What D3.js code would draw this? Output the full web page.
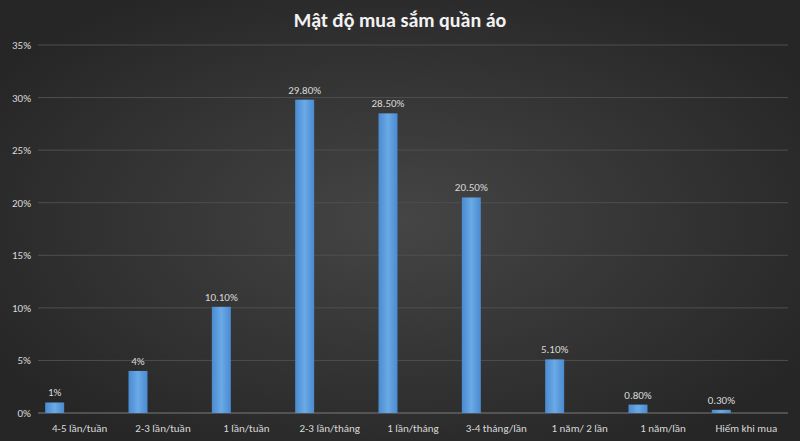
<!DOCTYPE html><html><head><meta charset="utf-8"><script src="https://cdn.jsdelivr.net/npm/d3@7"></script>
<style>body{margin:0;background:#2f2f2f}svg{display:block;font-family:Calibri,Carlito,"Liberation Sans",sans-serif}</style></head><body>
<svg id="c" width="800" height="441"></svg>
<script>
const categories=["4-5 lần/tuần","2-3 lần/tuần","1 lần/tuần","2-3 lần/tháng","1 lần/tháng","3-4 tháng/lần","1 năm/ 2 lần","1 năm/lần","Hiếm khi mua"];
const values=[1,4,10.1,29.8,28.5,20.5,5.1,0.8,0.3];
const valueLabels=["1%","4%","10.10%","29.80%","28.50%","20.50%","5.10%","0.80%","0.30%"];
const yTicks=[0,5,10,15,20,25,30,35];
const svg=d3.select("#c");
const defs=svg.append("defs");
const rg=defs.append("radialGradient").attr("id","bg").attr("cx","50%").attr("cy","50%").attr("r","60%");
rg.append("stop").attr("offset","0%").attr("stop-color","#454545");
rg.append("stop").attr("offset","100%").attr("stop-color","#262626");
const lg=defs.append("linearGradient").attr("id","bar").attr("x1",0).attr("x2",1);
lg.append("stop").attr("offset","0%").attr("stop-color","#4a8ad0");
lg.append("stop").attr("offset","50%").attr("stop-color","#6aaae6");
lg.append("stop").attr("offset","100%").attr("stop-color","#4a8ad0");
svg.append("rect").attr("width",800).attr("height",441).attr("fill","url(#bg)");
svg.append("text").attr("x",400).attr("y",27).attr("text-anchor","middle").attr("fill","#f2f2f2").attr("font-size",20).attr("font-weight","bold").text("Mật độ mua sắm quần áo");
const x=d3.scaleBand().domain(categories).range([38,788]);
const y=d3.scaleLinear().domain([0,35]).range([413,45]);
const g=svg.append("g");
g.selectAll("line.g").data(yTicks).join("line").attr("x1",38).attr("x2",788).attr("y1",d=>y(d)).attr("y2",d=>y(d)).attr("stroke",d=>d===0?"#7a7a7a":"#4e4e4e").attr("stroke-width",1);
g.selectAll("text.y").data(yTicks).join("text").attr("x",31).attr("y",d=>y(d)+4).attr("text-anchor","end").attr("fill","#d9d9d9").attr("font-size",11).text(d=>d+"%");
const bw=19;
const bx=d=>x(d)+x.bandwidth()/2-25-bw/2;
g.selectAll("rect.b").data(values).join("rect").attr("x",(d,i)=>bx(categories[i])).attr("width",bw).attr("y",d=>y(d)).attr("height",d=>y(0)-y(d)).attr("fill","url(#bar)");
g.selectAll("text.v").data(values).join("text").attr("x",(d,i)=>bx(categories[i])+bw/2).attr("y",d=>y(d)-6).attr("text-anchor","middle").attr("fill","#d9d9d9").attr("font-size",11).text((d,i)=>valueLabels[i]);
g.selectAll("text.c").data(categories).join("text").attr("x",d=>x(d)+x.bandwidth()/2).attr("y",432).attr("text-anchor","middle").attr("fill","#d9d9d9").attr("font-size",11).text(d=>d);
</script></body></html>
